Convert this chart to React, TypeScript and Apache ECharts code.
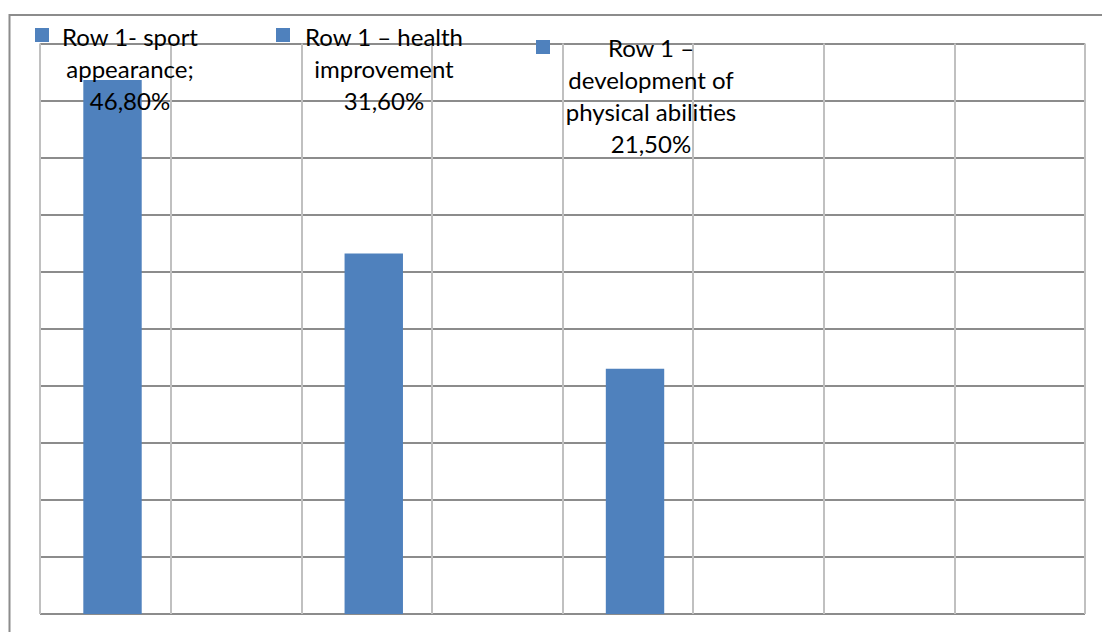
import React, { useEffect, useRef } from 'react';
import * as echarts from 'echarts';

const categories = ['C1', 'C2', 'C3', 'C4', 'C5', 'C6', 'C7', 'C8'];
const seriesNames = [
  'Row 1- sport\nappearance;',
  'Row 1 – health\nimprovement',
  'Row 1 –\ndevelopment of\nphysical abilities',
];
const seriesValues = [46.8, 31.6, 21.5];
const seriesCategory = [0, 2, 4];
const yMin = 0;
const yMax = 50;
const yInterval = 5;

const BAR_COLOR = '#4f81bd';

export default function App() {
  const ref = useRef<HTMLDivElement>(null);
  useEffect(() => {
    const chart = echarts.init(ref.current!, null, { renderer: 'svg' });
    const fmt = (v: number) => v.toFixed(2).replace('.', ',') + '%';
    const legendPos = [
      { x: 35, y: 28, tx: 130, ty: 20 },
      { x: 276, y: 28, tx: 384, ty: 20 },
      { x: 536, y: 40, tx: 651, ty: 31 },
    ];
    const legendGraphics: any[] = [];
    seriesNames.forEach((name, i) => {
      const p = legendPos[i];
      legendGraphics.push({
        type: 'rect',
        z: 100,
        shape: { x: p.x, y: p.y, width: 14, height: 14 },
        style: { fill: BAR_COLOR },
      });
      legendGraphics.push({
        type: 'text',
        z: 101,
        x: p.tx,
        y: p.ty,
        style: {
          text: name + '\n' + fmt(seriesValues[i]),
          fontFamily: 'Lato',
          fontSize: 24,
          lineHeight: 32,
          fill: '#000',
          align: 'center',
          verticalAlign: 'top',
        },
      });
    });

    const series: any[] = [
      {
        type: 'bar',
        name: '_offset',
        stack: 'offset',
        barWidth: 14.4,
        barGap: 0,
        silent: true,
        itemStyle: { color: 'transparent' },
        data: categories.map(() => null),
      },
      ...seriesNames.map((name, i) => ({
        type: 'bar',
        name,
        stack: 'main',
        barWidth: 58.4,
        barGap: 0,
        itemStyle: { color: BAR_COLOR },
        data: categories.map((_, j) => (j === seriesCategory[i] ? seriesValues[i] : null)),
      })),
    ];

    chart.setOption({
      animation: false,
      backgroundColor: '#fff',
      grid: { left: 40, top: 43.5, right: 17, bottom: 18, containLabel: false },
      xAxis: {
        type: 'category',
        data: categories,
        boundaryGap: true,
        axisLabel: { show: false },
        axisTick: { show: false },
        axisLine: { show: false },
        splitLine: { show: true, lineStyle: { color: '#c0c0c0', width: 2 } },
      },
      yAxis: {
        type: 'value',
        min: yMin,
        max: yMax,
        interval: yInterval,
        axisLabel: { show: false },
        axisTick: { show: false },
        axisLine: { show: false },
        splitLine: { show: true, lineStyle: { color: '#8c8c8c', width: 2 } },
      },
      series,
      graphic: [
        {
          type: 'rect',
          z: 99,
          shape: { x: 9.5, y: 15, width: 1300, height: 1000 },
          style: { fill: 'none', stroke: '#8c8c8c', lineWidth: 2 },
        },
        ...legendGraphics,
      ],
    });
    return () => chart.dispose();
  }, []);
  return <div ref={ref} style={{ position: 'fixed', left: 0, top: 0, width: 1102, height: 632 }} />;
}
